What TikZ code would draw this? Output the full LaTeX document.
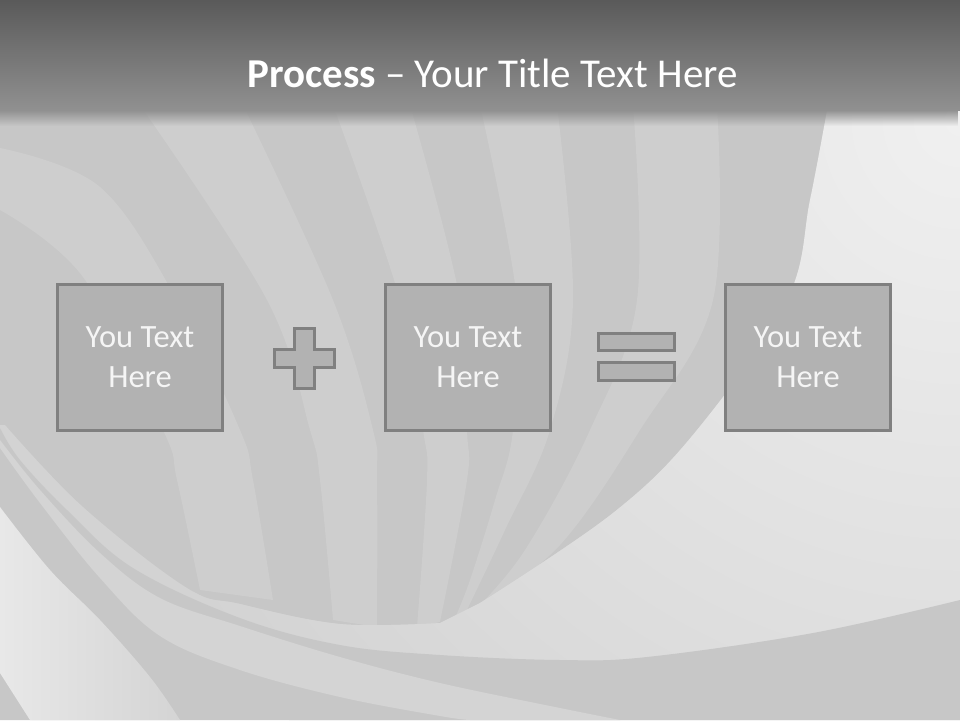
\documentclass[tikz,border=0pt]{standalone}
\usepackage{fontspec}
\setmainfont{Carlito}
\usetikzlibrary{fadings}
\definecolor{basegray}{HTML}{C7C7C7}
\definecolor{stripegray}{HTML}{CECECE}
\definecolor{bandlight}{HTML}{D4D4D4}
\definecolor{lightreg}{HTML}{D3D3D3}
\definecolor{lightcorner}{HTML}{F0F0F0}
\definecolor{hdrtop}{HTML}{5A5A5A}
\definecolor{hdrbot}{HTML}{909090}
\definecolor{boxfill}{HTML}{B2B2B2}
\definecolor{boxline}{HTML}{808080}
\definecolor{boxtext}{HTML}{F5F5F5}
\definecolor{ltwoA}{HTML}{E8E8E8}
\definecolor{ltwoB}{HTML}{D4D4D4}
\tikzfading[name=hdrfade, top color=transparent!0, bottom color=transparent!100]
\begin{document}
\begin{tikzpicture}[x=1pt,y=-1pt,
  boxstyle/.style={draw=boxline, line width=3pt, fill=boxfill, minimum width=165pt,
    minimum height=146pt, inner sep=0pt, text=boxtext, align=center,
    font=\fontsize{32.5}{40}\selectfont},
  symstyle/.style={draw=boxline, line width=3pt, fill=boxfill},
  eqbar/.style={symstyle, minimum width=76pt, minimum height=17.5pt, inner sep=0pt},
  stripe/.style={fill=stripegray},
  sm/.style={smooth, tension=0.6}]
\useasboundingbox (0,0) rectangle (960,720);
% base
\fill[basegray] (0,0) rectangle (960,720);
% curved stripes
\fill[stripe] plot[sm] coordinates {(0,148) (100,187) (177,300) (240,430) (253,480) (273,600)}
  -- plot[sm] coordinates {(200,590) (177,480) (163,430) (83,277) (0,210)} -- cycle;
\fill[stripe] plot[sm] coordinates {(140,105) (267,300) (310,430) (320,480) (333,620)}
  -- plot[sm] coordinates {(377,627) (377,480) (373,430) (333,300) (243,105)} -- cycle;
\fill[stripe] plot[sm] coordinates {(333,105) (400,300) (423,430) (427,480) (417,627)}
  -- plot[sm] coordinates {(440,622) (467,480) (467,430) (460,300) (410,105)} -- cycle;
\fill[stripe] plot[sm] coordinates {(480,105) (517,300) (513,430) (495,500) (470,580) (455,618)}
  -- plot[sm] coordinates {(465,614) (505,530) (550,430) (573,300) (557,105)} -- cycle;
\fill[stripe] plot[sm] coordinates {(633,105) (637,300) (590,430) (525,550) (475,610)}
  -- plot[sm] coordinates {(480,606) (560,545) (640,430) (713,300) (717,105)} -- cycle;
% right light region and left light wedge
\begin{scope}
  \clip plot[sm] coordinates {(828,105) (810,200) (787,300) (697,430) (613,513) (480,603)}
    -- plot[sm] coordinates {(440,623) (340,624) (240,604) (187,588) (83,507) (5,425)}
    -- (0,425) -- (0,720) -- (960,720) -- (960,105) -- cycle;
  \fill[lightreg] (0,0) rectangle (960,720);
  \shade[inner color=lightcorner, outer color=lightreg] (960,120) circle (900);
\end{scope}
% bottom dark band below A
\fill[basegray] plot[sm] coordinates {(0,428) (20,460) (67,510) (133,568) (240,618) (340,645) (440,655) (560,660) (647,657) (813,633) (960,600)}
  -- (960,720) -- (0,720) -- cycle;
% light band L
\fill[bandlight] plot[sm] coordinates {(0,440) (40,490) (100,553) (160,598) (240,626) (340,657) (440,683) (560,708) (620,720)}
  -- plot[sm] coordinates {(470,720) (440,716) (340,697) (240,670) (160,636) (100,578) (40,503) (0,448)} -- cycle;
% light band L2 (lower left)
\shade[left color=ltwoA, right color=ltwoB] plot[sm] coordinates {(0,507) (50,570) (100,620) (150,677) (180,720)}
  -- (30,720) -- (0,673) -- cycle;
% header
\shade[top color=hdrtop, bottom color=hdrbot] (0,0) rectangle (960,110);
\fill[hdrbot, path fading=hdrfade] (0,110) rectangle (960,126);
\node[anchor=base, text=white, font=\fontsize{41}{48}\selectfont, inner sep=0pt] (title) at (492.5,87)
  {\textbf{Process} – Your Title Text Here};
% boxes
\node[boxstyle] (box1) at (140,357.5) {You Text\\Here};
\node[boxstyle] (box2) at (468,357.5) {You Text\\Here};
\node[boxstyle] (box3) at (808,357.5) {You Text\\Here};
% plus
\draw[symstyle] (294.5,328.5) -- (314.5,328.5) -- (314.5,349.5) -- (334,349.5) -- (334,367) -- (314.5,367)
  -- (314.5,388) -- (294.5,388) -- (294.5,367) -- (274.5,367) -- (274.5,349.5) -- (294.5,349.5) -- cycle;
% equals
\node[eqbar] (eqtop) at (636.5,342) {};
\node[eqbar] (eqbot) at (636.5,371.5) {};
\end{tikzpicture}
\end{document}
